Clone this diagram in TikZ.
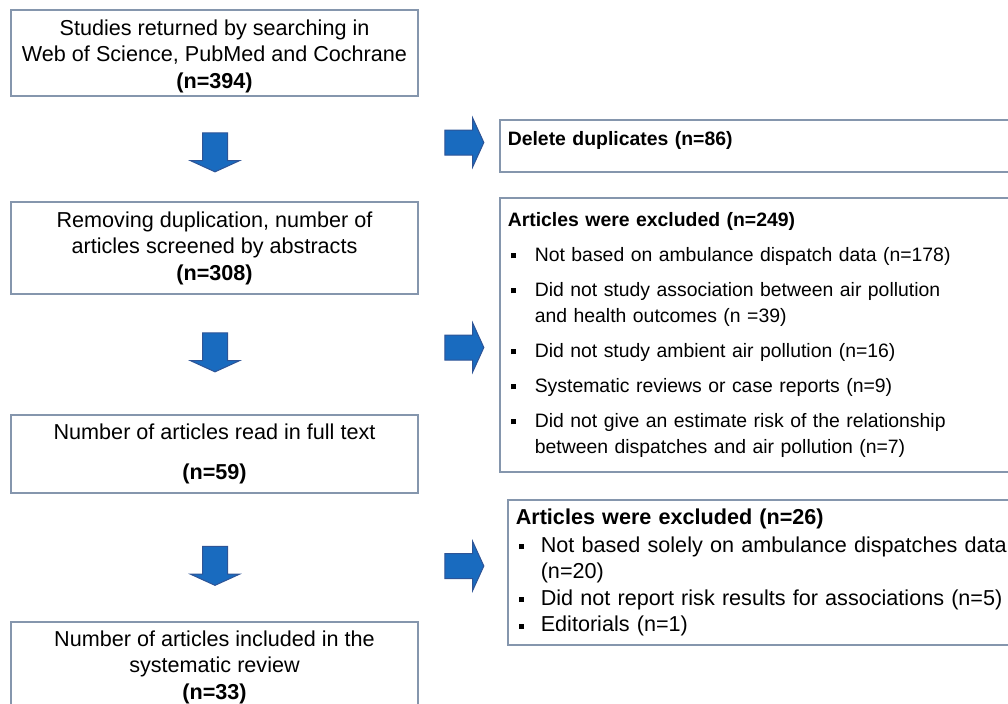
\documentclass[tikz,border=0pt]{standalone}
\usepackage{fontspec}
\setmainfont{Liberation Sans}
\usetikzlibrary{shapes.arrows}
\newlength{\du}
\setlength{\du}{0.5pt}
\newcommand{\sqbul}[1]{\makebox[#1\du][l]{\hspace{3.5\du}\rule[3\du]{5\du}{5\du}}}
\newcommand{\sqcont}[1]{\hspace*{#1\du}}

\begin{document}
\begin{tikzpicture}
\pgftransformxscale{1.000000}
\pgftransformyscale{-1.000000}
\definecolor{boxlinecolor}{rgb}{0.520000, 0.590000, 0.680000}
\definecolor{arrowfillcolor}{rgb}{0.100000, 0.420000, 0.750000}
\definecolor{arrowlinecolor}{rgb}{0.180000, 0.330000, 0.590000}
\tikzset{
  boxfont/.style={font=\fontsize{10.8pt}{13.25pt}\selectfont},
  smallfont/.style={font=\fontsize{9.7pt}{13pt}\selectfont},
  flowbox/.style={boxfont, draw=boxlinecolor, line width=1.6\du, inner sep=0pt,
    minimum width=407\du, align=center},
  sidebox/.style={boxfont, draw=boxlinecolor, line width=1.6\du, inner xsep=8\du,
    inner ysep=0pt, anchor=north west, align=left},
  blockarrow/.style={single arrow, draw=arrowlinecolor, fill=arrowfillcolor,
    line width=1\du, inner sep=12\du, minimum height=39\du,
    single arrow head extend=12\du, single arrow tip angle=131}
}
\useasboundingbox (0\du,0\du) rectangle (1008\du,703\du);
% left column
\node[flowbox, minimum height=86\du] (search) at (214.500000\du,53.000000\du)
  {\rule{0pt}{11pt}Studies returned by searching in\\Web of Science, PubMed and Cochrane\\\textbf{(n=394)}};
\node[flowbox, minimum height=92\du] (screened) at (214.500000\du,248.000000\du)
  {Removing duplication, number of\\articles screened by abstracts\\\textbf{(n=308)}};
\node[flowbox, minimum height=78\du] (fulltext) at (214.500000\du,454.000000\du)
  {Number of articles read in full text\\[13.5\du]\textbf{(n=59)}};
\node[flowbox, minimum height=90\du] (included) at (214.500000\du,667.000000\du)
  {Number of articles included in the\\systematic review\\\textbf{(n=33)}};
\node[blockarrow, shape border rotate=270] (down1) at (215.000000\du,149.500000\du) {};
\node[blockarrow, shape border rotate=270] (down2) at (215.000000\du,349.500000\du) {};
\node[blockarrow, shape border rotate=270] (down3) at (215.000000\du,563.000000\du) {};
% right column
\node[blockarrow] (right1) at (461.500000\du,142.500000\du) {};
\node[blockarrow] (right2) at (461.500000\du,347.500000\du) {};
\node[blockarrow] (right3) at (461.500000\du,566.000000\du) {};
\node[sidebox, smallfont, text width=504\du, text height=26\du, text depth=26\du] (dupl) at (499.000000\du,119.000000\du)
  {\textbf{Delete duplicates (n=86)}};
\node[sidebox, smallfont, text width=504\du, minimum height=274\du] (excl249) at (499.000000\du,197.000000\du)
  {\textbf{Articles were excluded (n=249)}\\[9\du]
   \sqbul{27}Not based on ambulance dispatch data (n=178)\\[9\du]
   \sqbul{27}Did not study association between air pollution\\
   \sqcont{27}and health outcomes (n =39)\\[9\du]
   \sqbul{27}Did not study ambient air pollution (n=16)\\[9\du]
   \sqbul{27}Systematic reviews or case reports (n=9)\\[9\du]
   \sqbul{27}Did not give an estimate risk of the relationship\\
   \sqcont{27}between dispatches and air pollution (n=7)};
\node[sidebox, text width=496\du, minimum height=145\du] (excl26) at (507.000000\du,499.000000\du)
  {\textbf{Articles were excluded (n=26)}\\[1.5\du]
   \sqbul{25}Not based solely on ambulance dispatches data\\
   \sqcont{25}(n=20)\\
   \sqbul{25}Did not report risk results for associations (n=5)\\
   \sqbul{25}Editorials (n=1)};
\end{tikzpicture}
\end{document}
